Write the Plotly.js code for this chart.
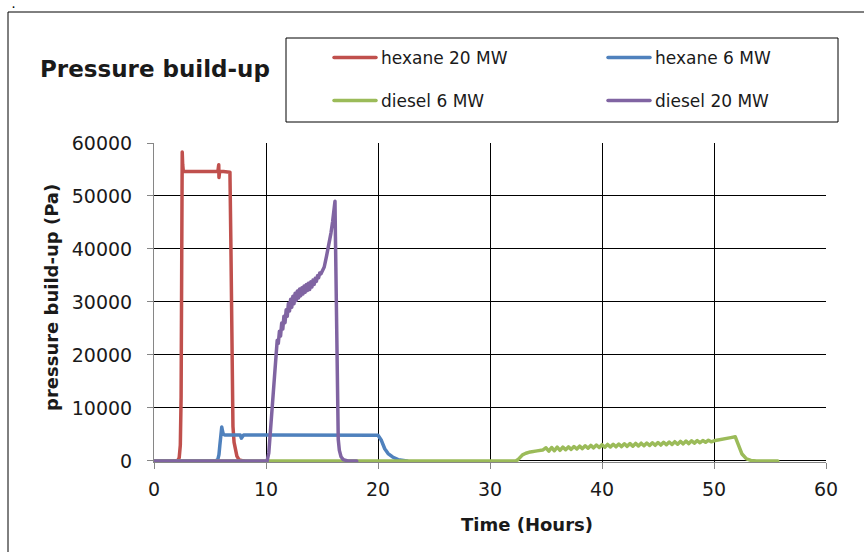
<!DOCTYPE html>
<html>
<head>
<meta charset="utf-8">
<script src="https://cdn.plot.ly/plotly-3.0.1.min.js"></script>
<style>
  html, body { margin: 0; padding: 0; background: #fff; }
  #chart { width: 864px; height: 552px; }
  #chart path.js-line { stroke-linejoin: round !important; stroke-linecap: round !important; }
</style>
</head>
<body>
<div id="chart"></div>
<script>
// ---- Data ----
const seriesNames = ["hexane 20 MW", "hexane 6 MW", "diesel 6 MW", "diesel 20 MW"];
const seriesColors = ["#C0504D", "#4F81BD", "#9BBB59", "#8064A2"];

const hexane20Time = [0, 2.1, 2.25, 2.35, 2.42, 2.47, 2.52, 2.56, 2.62, 3.5, 4.5, 5.7, 5.78, 5.8, 5.82, 5.86, 6.2, 6.78, 6.87, 6.98, 7.05, 7.15, 7.25, 7.4, 7.6, 8.0];
const hexane20Pa   = [0, 0, 600, 3000, 12000, 35000, 58300, 56000, 54600, 54600, 54600, 54600, 55900, 53500, 55600, 54600, 54600, 54500, 40000, 20000, 6500, 3500, 2000, 900, 200, 0];

const hexane6Time = [0, 5.5, 5.7, 5.8, 5.88, 5.95, 6.05, 6.12, 6.2, 6.35, 7.7, 7.8, 7.9, 8.0, 10, 15, 19.8, 20.0, 20.3, 20.6, 20.9, 21.3, 21.8, 22.3, 22.6];
const hexane6Pa   = [0, 0, 300, 1200, 3000, 5000, 6400, 5600, 5000, 4900, 4900, 4300, 4800, 4900, 4900, 4900, 4900, 4850, 3900, 2300, 1400, 750, 250, 0, 0];

const diesel6Time = [0, 32.3, 32.5, 32.7, 32.9, 33.2, 33.6, 34.2, 34.7,
  35.00, 35.25, 35.50, 35.75, 36.00, 36.25, 36.50, 36.75, 37.00, 37.25, 37.50, 37.75,
  38.00, 38.25, 38.50, 38.75, 39.00, 39.25, 39.50, 39.75, 40.00, 40.25, 40.50, 40.75,
  41.00, 41.25, 41.50, 41.75, 42.00, 42.25, 42.50, 42.75, 43.00, 43.25, 43.50, 43.75,
  44.00, 44.25, 44.50, 44.75, 45.00, 45.25, 45.50, 45.75, 46.00, 46.25, 46.50, 46.75,
  47.00, 47.25, 47.50, 47.75, 48.00, 48.25, 48.50, 48.75, 49.00, 49.25, 49.50, 49.75,
  50.0, 50.3, 50.6, 51.0, 51.5, 51.9, 52.05, 52.2, 52.5, 52.9, 53.3, 53.8, 55.7];
const diesel6Pa = [0, 0, 250, 750, 1150, 1450, 1700, 1900, 2050,
  2480, 1850, 2540, 1920, 2610, 2010, 2620, 2120, 2650, 2185, 2720, 2255,
  2790, 2325, 2860, 2395, 2930, 2465, 3000, 2535, 3070, 2590, 3110, 2630,
  3150, 2670, 3190, 2710, 3230, 2750, 3270, 2790, 3310, 2830, 3350, 2870,
  3390, 2910, 3430, 2950, 3470, 3000, 3525, 3050, 3580, 3110, 3635, 3160,
  3690, 3220, 3745, 3270, 3800, 3360, 3825, 3430, 3860, 3515, 3910, 3615,
  3800, 3950, 4050, 4200, 4400, 4550, 3800, 2880, 1300, 380, 100, 0, 0];

const diesel20Time = [0, 10.1, 10.25, 10.4, 10.5, 10.65, 10.8, 10.95,
  11.0, 11.1, 11.2, 11.3, 11.4, 11.5, 11.6, 11.7, 11.8, 11.9,
  12.0, 12.1, 12.2, 12.3, 12.4, 12.5, 12.6, 12.7, 12.8, 12.9,
  13.0, 13.1, 13.2, 13.3, 13.4, 13.5, 13.6, 13.7, 13.8, 13.9,
  14.0, 14.1, 14.2, 14.3, 14.4, 14.5, 14.6, 14.7, 14.8, 14.9, 15.0,
  15.2, 15.4, 15.6, 15.8, 15.95, 16.08, 16.16, 16.2, 16.3, 16.4, 16.45,
  16.55, 16.7, 16.9, 17.1, 17.3, 18.1];
const diesel20Pa = [0, 0, 1500, 6000, 9200, 14000, 17900, 20800,
  22760, 22200, 24470, 23560, 26010, 24890, 27310, 26090, 28510, 27290,
  29710, 28290, 30510, 28990, 31075, 29660, 31640, 30295, 32070, 30730,
  32435, 31150, 32700, 31500, 33015, 31835, 33315, 32170, 33530, 32370,
  33795, 32840, 34125, 33310, 34455, 33880, 34950, 34585, 35480, 35290, 35800,
  36600, 38600, 40500, 43000, 45200, 47300, 49000, 42300, 25700, 9100, 4100,
  2000, 800, 250, 50, 0, 0];

const xTickValues = [0, 10, 20, 30, 40, 50, 60];
const yTickValues = [0, 10000, 20000, 30000, 40000, 50000, 60000];

// ---- Geometry helpers (pixel -> paper) ----
const PL = 154, PR = 826, PT = 143, PB = 462;
const px2x = p => (p - PL) / (PR - PL);
const py2y = p => (PB - p) / (PB - PT);

const FONT = "DejaVu Sans, Arial, sans-serif";
const TXT = "#1a1a1a";

const xs = [hexane20Time, hexane6Time, diesel6Time, diesel20Time];
const ys = [hexane20Pa, hexane6Pa, diesel6Pa, diesel20Pa];
const legendIds = ["legend", "legend", "legend2", "legend2"];

const traces = seriesNames.map((name, i) => ({
  type: "scatter",
  mode: "lines",
  name: name,
  x: xs[i],
  y: ys[i],
  line: { color: seriesColors[i], width: 3.5 },
  legend: legendIds[i],
  hoverinfo: "skip"
}));

const legendCommon = {
  orientation: "h",
  entrywidth: 217,
  entrywidthmode: "pixels",
  itemwidth: 42,
  font: { family: FONT, size: 17, color: TXT },
  bgcolor: "rgba(0,0,0,0)",
  borderwidth: 0,
  xref: "paper", yref: "paper",
  xanchor: "left", yanchor: "middle",
  x: px2x(329)
};

const layout = {
  width: 864,
  height: 552,
  paper_bgcolor: "#ffffff",
  plot_bgcolor: "#ffffff",
  margin: { l: PL, r: 864 - PR, t: PT, b: 552 - PB, autoexpand: false },
  showlegend: true,
  title: {
    text: "<b>Pressure build-up</b>",
    font: { family: FONT, size: 23, color: TXT },
    xref: "container", yref: "container",
    x: 40 / 864, xanchor: "left",
    y: 1 - 69 / 552, yanchor: "middle"
  },
  legend: Object.assign({}, legendCommon, { y: py2y(58) }),
  legend2: Object.assign({}, legendCommon, { y: py2y(101) }),
  xaxis: {
    range: [0, 60],
    tickvals: xTickValues,
    ticktext: xTickValues.map(String),
    showgrid: true, gridcolor: "#000000", gridwidth: 1,
    zeroline: false,
    showline: true, linecolor: "#868686", linewidth: 1,
    ticks: "outside", ticklen: 6, tickcolor: "#868686",
    ticklabelstandoff: 4,
    tickfont: { family: FONT, size: 19, color: TXT }
  },
  yaxis: {
    range: [-200, 60000],
    tickvals: yTickValues,
    ticktext: yTickValues.map(String),
    showgrid: true, gridcolor: "#000000", gridwidth: 1,
    zeroline: false,
    showline: true, linecolor: "#868686", linewidth: 1,
    ticks: "outside", ticklen: 6, tickcolor: "#868686",
    ticklabelstandoff: 11,
    tickfont: { family: FONT, size: 19, color: TXT }
  },
  shapes: [
    { type: "rect", xref: "paper", yref: "paper", layer: "below",
      x0: px2x(8), x1: px2x(900), y0: py2y(12), y1: py2y(600),
      line: { color: "#000000", width: 1 }, fillcolor: "rgba(0,0,0,0)" },
    { type: "rect", xref: "paper", yref: "paper", layer: "above",
      x0: px2x(286), x1: px2x(838), y0: py2y(122), y1: py2y(38),
      line: { color: "#000000", width: 1 }, fillcolor: "rgba(0,0,0,0)" }
  ],
  annotations: [
    { text: "<b>Time (Hours)</b>", xref: "paper", yref: "paper",
      x: px2x(527), y: py2y(524), xanchor: "center", yanchor: "middle",
      showarrow: false, font: { family: FONT, size: 18, color: TXT } },
    { text: "<b>pressure build-up (Pa)</b>", xref: "paper", yref: "paper",
      x: px2x(51), y: py2y(298), xanchor: "center", yanchor: "middle",
      textangle: -90, showarrow: false, font: { family: FONT, size: 18, color: TXT } },
    { text: "<b>.</b>", xref: "paper", yref: "paper",
      x: px2x(13), y: py2y(0), xanchor: "center", yanchor: "top",
      borderpad: 0, showarrow: false, font: { family: FONT, size: 8, color: "#000000" } }
  ]
};

Plotly.newPlot("chart", traces, layout, { staticPlot: true, displayModeBar: false });
</script>
</body>
</html>
